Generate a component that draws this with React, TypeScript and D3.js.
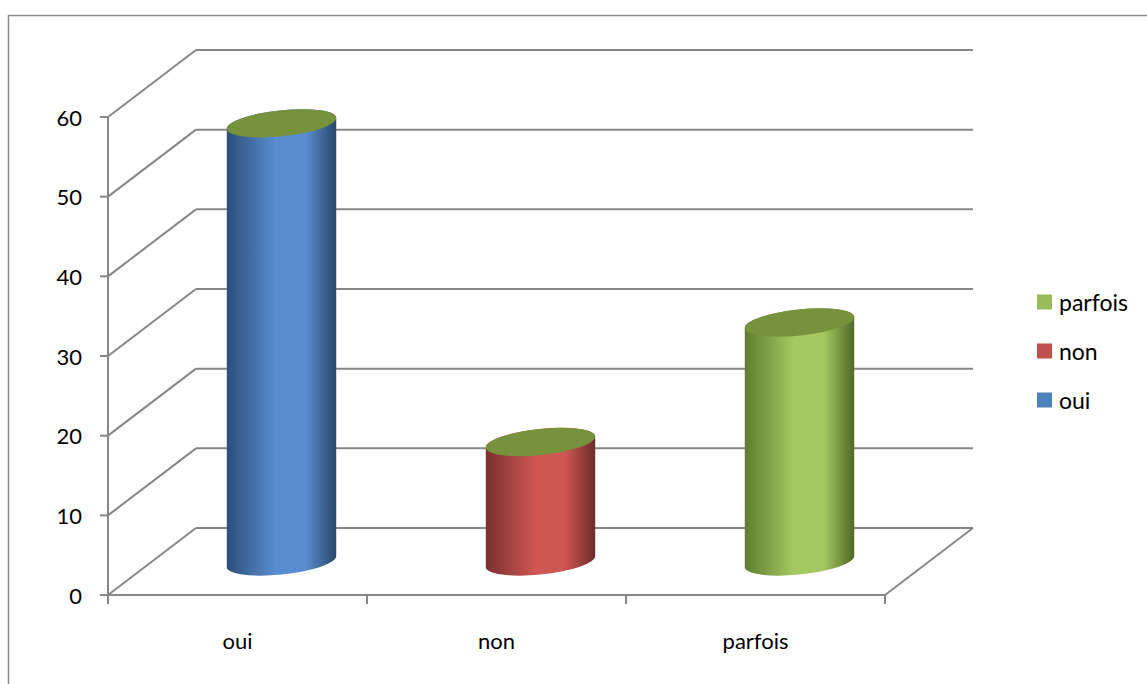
import React from "react";
import * as d3 from "d3";

const categories = ["oui", "non", "parfois"];
const values = [55, 15, 30];
const yTicks = [0, 10, 20, 30, 40, 50, 60];
const legendOrder = ["parfois", "non", "oui"];

const sideColors: Record<string, [string, string, string]> = {
  oui: ["#2c4f7a", "#5a8dcf", "#2b466b"],
  non: ["#7a302e", "#ce5653", "#6d2c2b"],
  parfois: ["#5f7d2f", "#a6c862", "#4f6826"],
};
const legendColors: Record<string, string> = {
  oui: "#4F81BD",
  non: "#C0504D",
  parfois: "#9BBB59",
};
const capColor = "#77923D";

const W = 1147;
const H = 684;
const DX = 88;
const DY = -67;
const GRID = "#878787";
const FONT = "Lato, 'Open Sans', sans-serif";

export default function App() {
  const y = d3.scaleLinear().domain([0, 60]).range([595, 117]);
  const x = d3.scaleBand().domain(categories).range([108, 885]).paddingInner(0).paddingOuter(0);
  const a = 55;
  const b = 13;
  const phi = (-6 * Math.PI) / 180;
  const t0 = Math.atan2(-b * Math.sin(phi), a * Math.cos(phi));
  const ex = a * Math.cos(t0) * Math.cos(phi) - b * Math.sin(t0) * Math.sin(phi);
  const ey = a * Math.cos(t0) * Math.sin(phi) + b * Math.sin(t0) * Math.cos(phi);
  const phiDeg = (phi * 180) / Math.PI;

  return (
    <svg width={W} height={H} style={{ display: "block", position: "absolute", left: 0, top: 0 }}>
      <defs>
        {categories.map((c) => (
          <linearGradient key={c} id={`g-${c}`} x1="0" x2="1" y1="0" y2="0">
            <stop offset="0%" stopColor={sideColors[c][0]} />
            <stop offset="45%" stopColor={sideColors[c][1]} />
            <stop offset="72%" stopColor={sideColors[c][1]} />
            <stop offset="100%" stopColor={sideColors[c][2]} />
          </linearGradient>
        ))}
      </defs>
      <rect x={0} y={0} width={W} height={H} fill="#fff" />
      <path d={`M8.5,${H} L8.5,15.5 L${W},15.5`} fill="none" stroke="#8c8c8c" strokeWidth={1.5} />

      {yTicks.map((t) => (
        <g key={t}>
          <line x1={108} y1={y(t)} x2={108 + DX} y2={y(t) + DY} stroke={GRID} strokeWidth={2} />
          <line x1={108 + DX} y1={y(t) + DY} x2={885 + DX} y2={y(t) + DY} stroke={GRID} strokeWidth={2} />
        </g>
      ))}
      <line x1={108} y1={y(0)} x2={885} y2={y(0)} stroke={GRID} strokeWidth={2} />
      <line x1={885} y1={y(0)} x2={885 + DX} y2={y(0) + DY} stroke={GRID} strokeWidth={2} />
      <line x1={108} y1={y(0)} x2={108} y2={y(60)} stroke={GRID} strokeWidth={2} />
      {yTicks.map((t) => (
        <g key={`yt${t}`}>
          <line x1={100} y1={y(t)} x2={108} y2={y(t)} stroke={GRID} strokeWidth={2} />
          <text x={82} y={y(t)} textAnchor="end" dominantBaseline="central" fontFamily={FONT} fontSize={22} fill="#000">
            {t}
          </text>
        </g>
      ))}
      {[...categories.map((c) => x(c) as number), 885].map((px, i) => (
        <line key={`ct${i}`} x1={px} y1={y(0)} x2={px} y2={y(0) + 9} stroke={GRID} strokeWidth={2} />
      ))}
      {categories.map((c) => (
        <text
          key={`cl${c}`}
          x={(x(c) as number) + x.bandwidth() / 2}
          y={640}
          textAnchor="middle"
          dominantBaseline="central"
          fontFamily={FONT}
          fontSize={22}
          fill="#000"
        >
          {c}
        </text>
      ))}

      {categories.map((c, i) => {
        const cx = (x(c) as number) + x.bandwidth() / 2 + DX / 2;
        const by = y(0) + DY / 2;
        const ty = y(values[i]) + DY / 2;
        const lx = cx - ex;
        const rx = cx + ex;
        const body = `M${lx},${ty - ey} L${lx},${by - ey} A${a},${b} ${phiDeg} 0 0 ${rx},${by + ey} L${rx},${ty + ey} A${a},${b} ${phiDeg} 0 0 ${lx},${ty - ey} Z`;
        return (
          <g key={`cy${c}`}>
            <path d={body} fill={`url(#g-${c})`} />
            <ellipse cx={cx} cy={ty} rx={a} ry={b} transform={`rotate(${phiDeg} ${cx} ${ty})`} fill={capColor} />
          </g>
        );
      })}

      {legendOrder.map((c, i) => (
        <g key={`lg${c}`} transform={`translate(1037, ${302 + i * 49})`}>
          <rect x={0} y={-7.5} width={15} height={15} fill={legendColors[c]} />
          <text x={22} y={0} dominantBaseline="central" fontFamily={FONT} fontSize={23} fill="#000">
            {c}
          </text>
        </g>
      ))}
    </svg>
  );
}
